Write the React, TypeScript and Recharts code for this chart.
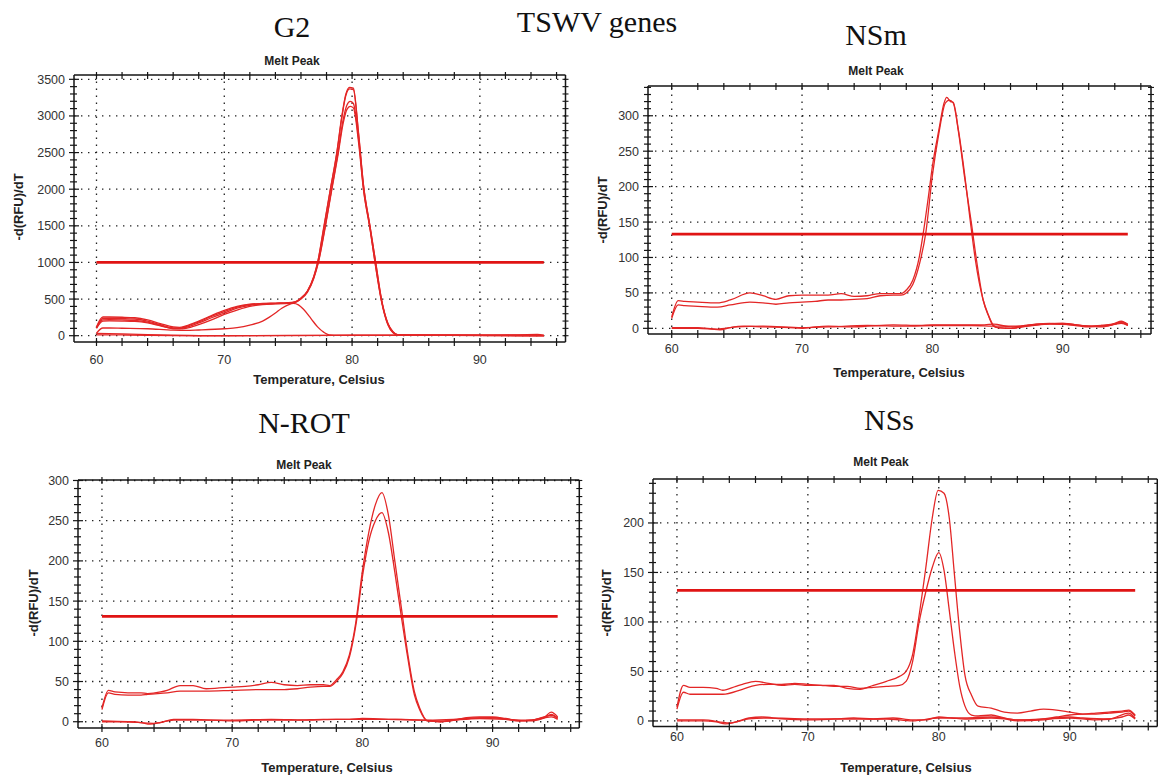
import React from "react";
import { LineChart, Line, XAxis, YAxis, ReferenceLine } from "recharts";

type Pt = [number, number];

// ---- G2 ----
const g2PeakA: Pt[] = [[60,120],[60.5,255],[61,255],[62,252],[63,245],[64,215],[65,165],[66,120],[66.5,115],[67,135],[68,200],[69,275],[70,345],[71,400],[72,430],[73,440],[74,445],[75,450],[75.5,460],[76,515],[76.5,610],[77,810],[77.3,1000],[77.8,1500],[78.3,2000],[78.8,2500],[79.2,3000],[79.5,3290],[79.8,3390],[80.1,3380],[80.5,2780],[80.9,2050],[81.4,1500],[81.85,1000],[82.3,500],[82.8,170],[83.2,55],[83.6,12],[85,8],[88,6],[92,4],[95,2]];
const g2PeakB: Pt[] = [[60,115],[60.5,235],[61,238],[62,235],[63,228],[64,200],[65,150],[66,108],[66.5,105],[67,125],[68,190],[69,265],[70,330],[71,390],[72,425],[73,438],[74,442],[75,448],[75.5,458],[76,512],[76.5,605],[77,800],[77.3,990],[77.8,1480],[78.3,1990],[78.8,2480],[79.2,2980],[79.5,3270],[79.8,3370],[80.1,3360],[80.5,2760],[80.9,2040],[81.4,1490],[81.85,990],[82.3,490],[82.8,165],[83.2,50],[83.6,10],[85,6],[90,5],[95,2]];
const g2PeakC: Pt[] = [[60,105],[60.5,215],[61,218],[62,215],[63,208],[64,185],[65,140],[66,100],[66.5,98],[67,115],[68,175],[69,245],[70,310],[71,375],[72,415],[73,432],[74,438],[75,445],[75.5,455],[76,505],[76.5,600],[77,790],[77.35,1000],[77.9,1500],[78.4,2000],[78.9,2500],[79.3,2950],[79.6,3150],[79.85,3200],[80.1,3170],[80.5,2700],[80.9,2000],[81.4,1470],[81.8,1000],[82.3,480],[82.8,160],[83.2,45],[83.6,10],[86,5],[90,4],[95,1]];
const g2PeakD: Pt[] = [[60,100],[60.5,200],[61,202],[62,200],[63,195],[64,175],[65,135],[66,95],[66.5,92],[67,100],[68,150],[69,215],[70,290],[71,350],[72,400],[73,425],[74,435],[75,442],[75.5,452],[76,500],[76.5,590],[77,780],[77.35,990],[77.9,1480],[78.4,1980],[78.9,2470],[79.3,2900],[79.6,3090],[79.85,3130],[80.1,3110],[80.5,2650],[80.9,1980],[81.4,1460],[81.8,990],[82.3,470],[82.8,150],[83.2,40],[83.6,8],[86,4],[90,4],[95,1]];
const g2Shoulder: Pt[] = [[60,35],[60.5,105],[61,105],[62,102],[64,95],[66,75],[67,72],[68,78],[70,95],[71,110],[72,145],[73,200],[73.5,250],[74,310],[74.5,375],[75,420],[75.4,440],[75.8,420],[76.2,360],[76.8,230],[77.3,120],[77.8,45],[78.2,12],[79,4],[82,4],[85,6],[90,4],[95,2]];
const g2BlankA: Pt[] = [[60,30],[61,28],[62,25],[64,15],[66,6],[68,2],[70,0],[75,4],[80,6],[85,8],[88,6],[90,5],[93,8],[94.5,18],[95,8]];
const g2BlankB: Pt[] = [[60,12],[62,10],[64,5],[66,0],[70,-2],[75,2],[80,4],[85,5],[90,3],[94,8],[95,4]];
const g2Threshold = 1000;
const g2YLabels = [0, 500, 1000, 1500, 2000, 2500, 3000, 3500];

// ---- NSm ----
const nsmHighA: Pt[] = [[60,16],[60.5,39],[61,38],[62,37],[63,36],[63.5,36],[64.5,40],[66,50],[67,46],[68,41],[69,46],[70,47],[71,47],[72,47],[73,49],[74,45],[75,46],[76,49],[77,49],[77.6,49],[78,54],[78.5,68],[79,101],[79.3,134],[79.7,186],[80,228],[80.5,280],[80.9,318],[81.1,326],[81.4,320],[81.6,319],[82,280],[82.5,214],[82.9,153],[83.3,97],[83.9,40],[84.3,19],[84.7,4],[85,1],[86,0],[87,3],[88,6],[89,7],[90,6],[91,4],[92,2],[93,4],[94,7],[94.5,10],[95,5]];
const nsmHighB: Pt[] = [[60,14],[60.5,33],[61,32],[62,31],[63,30],[63.5,30],[64.5,33],[66,37],[67,36],[68,34],[69,36],[70,37],[71,38],[72,40],[73,40],[74,41],[75,42],[76,46],[77,47],[77.6,47],[78,50],[78.5,62],[79,90],[79.5,135],[80,215],[80.5,275],[81,318],[81.3,322],[81.6,318],[82,278],[82.5,210],[83,148],[83.4,95],[83.9,40],[84.3,18],[84.7,3],[85,1],[86,0],[88,5],[90,7],[91,5],[92,3],[93,3],[94,6],[94.5,8],[95,4]];
const nsmBlankA: Pt[] = [[60,0],[62,0],[63,-1],[63.7,-2],[64.5,1],[65.5,3],[67,2],[69,1],[70,0],[71,2],[72,3],[74,2],[75,3],[77,5],[79,4],[80,5],[82,5],[84,5],[84.7,6],[86,2],[88,6],[90,7],[92,3],[93,4],[94,6],[94.5,9],[95,6]];
const nsmBlankB: Pt[] = [[60,1],[62,1],[63.5,-1],[65,2],[67,3],[70,1],[72,2],[75,4],[78,3],[80,4],[83,4],[85,3],[87,3],[89,6],[91,5],[93,2],[94.5,7],[95,4]];
const nsmThreshold = 133;
const nsmYLabels = [0, 50, 100, 150, 200, 250, 300];

// ---- N-ROT ----
const nrotHighA: Pt[] = [[60,17],[60.5,39],[61,37],[62,36],[63,36],[63.5,35],[64.5,37],[65,39],[66,45],[67,45],[68,41],[69,42],[70,43],[71,44],[72,46],[73,49],[74,46],[75,45],[76,46],[77,46],[77.5,45],[78,52],[78.5,62],[79,83],[79.5,124],[80,187],[80.5,236],[81,270],[81.5,285],[82,257],[82.5,199],[83,141],[83.5,83],[84,37],[84.4,17],[85,1],[86,0],[87,2],[88,5],[89,6],[90,6],[91,4],[92,1],[93,2],[94,6],[94.5,12],[95,6]];
const nrotHighB: Pt[] = [[60,15],[60.5,36],[61,34],[62,33],[63,33],[63.5,34],[65,36],[66,38],[67,38],[68,38],[70,39],[72,40],[73,40],[74,40],[75,41],[76,43],[77,44],[77.5,44],[78,50],[78.5,60],[79,80],[79.5,120],[80,180],[80.5,225],[81,250],[81.5,260],[82,235],[82.5,185],[83,130],[83.5,78],[84,33],[84.4,15],[85,1],[86,0],[88,4],[90,5],[91,3],[92,1],[93,2],[94,5],[94.5,9],[95,4]];
const nrotBlankA: Pt[] = [[60,0],[62,0],[63,-1],[63.7,-3],[64.5,-1],[65.5,3],[67,3],[70,1],[72,2],[75,2],[77,3],[79,3],[80,4],[82,3],[85,2],[87,3],[88,4],[90,5],[92,2],[93,2],[94.5,8],[95,5]];
const nrotBlankB: Pt[] = [[60,1],[62,0],[64,-2],[65.5,2],[68,2],[70,2],[73,3],[76,2],[78,3],[80,3],[83,3],[86,1],[89,4],[91,3],[93,1],[94.5,6],[95,3]];
const nrotThreshold = 131;
const nrotYLabels = [0, 50, 100, 150, 200, 250, 300];

// ---- NSs ----
const nssHighA: Pt[] = [[60,14],[60.5,36],[61,34],[62,34],[63,33],[63.5,31],[64.5,35],[65,37],[66,40],[67,38],[68,36],[69,37],[70,36],[71,36],[72,36],[73,33],[74,32],[75,36],[76,40],[77,45],[77.5,50],[78,67],[78.5,107],[79,154],[79.5,205],[79.95,233],[80.4,230],[80.8,205],[81.2,147],[81.6,90],[82,46],[82.5,26],[83,15],[84,13],[85,9],[86,8],[87,10],[88,12],[89,11],[90,9],[91,7],[92,8],[93,9],[94,10],[94.5,11],[95,6]];
const nssHighB: Pt[] = [[60,12],[60.5,29],[61,27],[62,27],[63,27],[63.5,27],[65,32],[66,36],[67,37],[68,37],[69,38],[70,37],[71,36],[72,35],[73,35],[74,33],[75,34],[76,35],[77,36],[77.5,40],[78,60],[78.5,100],[79,130],[79.5,155],[80,170],[80.4,152],[80.8,112],[81.2,70],[81.6,35],[82,15],[82.5,6],[83,5],[84,6],[85,3],[86,1],[87,1],[88,2],[89,4],[90,6],[91,7],[92,7],[93,8],[94,9],[94.5,10],[95,5]];
const nssBlankA: Pt[] = [[60,0],[62,0],[63,-1],[63.7,-3],[64.5,-1],[65.5,3],[66.5,4],[68,2],[70,1],[72,2],[73.5,3],[75,2],[76.5,3],[78,1],[79,1],[80,4],[81,3],[82,2],[84,3],[85,2],[86,0],[88,1],[89,3],[90,4],[91,3],[93,2],[94.5,8],[95,3]];
const nssBlankB: Pt[] = [[60,1],[62,1],[64,-2],[65.5,2],[67,3],[70,2],[73,2],[76,2],[78,0],[80,3],[82,3],[84,4],[86,1],[88,2],[90,3],[92,1],[94,4],[94.5,6],[95,2]];
const nssThreshold = 132;
const nssYLabels = [0, 50, 100, 150, 200];

// ---- shared axis values ----
const tempRange = [60, 95];
const xLabels = [60, 70, 80, 90];
const xTicks = [60, 62, 64, 66, 68, 70, 72, 74, 76, 78, 80, 82, 84, 86, 88, 90, 92, 94, 96];

const RED = "#e32626";
const INK = "#151515";
const SANS = "'Liberation Sans', Arial, sans-serif";
const SERIF = "'Liberation Serif', 'Times New Roman', serif";

const toRows = (pts: Pt[]) => pts.map(([t, y]) => ({ t, y }));
const minorTicks = (top: number, step: number) => {
  const out: number[] = [];
  for (let v = 0; v <= top + 1e-9; v += step) out.push(Math.round(v));
  return out;
};

type Frame = { l: number; t: number; r: number; b: number };
type Panel = {
  title: string;
  titleAt: [number, number];
  meltAt: [number, number];
  yTitleAt: [number, number];
  xTitleAt: [number, number];
  labelGap: number;
  frame: Frame;
  xDomain: [number, number];
  yDomain: [number, number];
  yLabels: number[];
  yStep: number;
  curves: Pt[][];
  threshold: number;
};

const panels: Panel[] = [
  {
    title: "G2", titleAt: [292, 27], meltAt: [292, 61], yTitleAt: [18, 207], xTitleAt: [319, 379], labelGap: 22,
    frame: { l: 73.5, t: 75, r: 565, b: 342 }, xDomain: [58.24, 96.7], yDomain: [-86, 3559],
    yLabels: g2YLabels, yStep: 100,
    curves: [g2BlankA, g2BlankB, g2Shoulder, g2PeakD, g2PeakC, g2PeakB, g2PeakA], threshold: g2Threshold,
  },
  {
    title: "NSm", titleAt: [876, 35], meltAt: [876, 71], yTitleAt: [602, 210], xTitleAt: [899, 372], labelGap: 19,
    frame: { l: 648, t: 86, r: 1151, b: 334 }, xDomain: [58.18, 96.78], yDomain: [-8, 342],
    yLabels: nsmYLabels, yStep: 10,
    curves: [nsmBlankA, nsmBlankB, nsmHighB, nsmHighA], threshold: nsmThreshold,
  },
  {
    title: "N-ROT", titleAt: [304, 423], meltAt: [304, 465], yTitleAt: [33, 603], xTitleAt: [327, 767], labelGap: 19,
    frame: { l: 77.7, t: 480, r: 579, b: 728 }, xDomain: [58.16, 96.66], yDomain: [-7.8, 300.6],
    yLabels: nrotYLabels, yStep: 10,
    curves: [nrotBlankA, nrotBlankB, nrotHighB, nrotHighA], threshold: nrotThreshold,
  },
  {
    title: "NSs", titleAt: [889, 420], meltAt: [881, 462], yTitleAt: [606, 603], xTitleAt: [906, 767], labelGap: 15,
    frame: { l: 652.7, t: 479, r: 1157, b: 726.5 }, xDomain: [58.17, 96.69], yDomain: [-5.6, 244.4],
    yLabels: nssYLabels, yStep: 10,
    curves: [nssBlankA, nssBlankB, nssHighB, nssHighA], threshold: nssThreshold,
  },
];

const PAD_L = 70, PAD_R = 12, PAD_T = 12, PAD_B = 36;

function Label({ at, children, style }: { at: [number, number]; children: React.ReactNode; style: React.CSSProperties }) {
  return (
    <div style={{ position: "absolute", left: at[0], top: at[1], transform: "translate(-50%, -50%)", whiteSpace: "nowrap", ...style }}>
      {children}
    </div>
  );
}

function MeltPanel({ p }: { p: Panel }) {
  const w = p.frame.r - p.frame.l;
  const h = p.frame.b - p.frame.t;
  const yMinor = minorTicks(p.yDomain[1], p.yStep);

  const bottomTick = (props: any) => {
    const { x, y, payload } = props;
    return (
      <g>
        <line x1={x} x2={x} y1={y - 4} y2={y + 4} stroke={INK} strokeWidth={1.2} />
        {xLabels.includes(payload.value) && (
          <text x={x} y={y + p.labelGap} textAnchor="middle" fontSize={12.5} fontFamily={SANS} fill="#333">
            {payload.value}
          </text>
        )}
      </g>
    );
  };
  const topTick = (props: any) => {
    const { x, y } = props;
    return <line x1={x} x2={x} y1={y - 3} y2={y + 4} stroke={INK} strokeWidth={1.2} />;
  };
  const leftTick = (props: any) => {
    const { x, y, payload } = props;
    const major = p.yLabels.includes(payload.value);
    return (
      <g>
        <line x1={x - (major ? 5 : 4)} x2={x + (major ? 5 : 3)} y1={y} y2={y} stroke={INK} strokeWidth={1.2} />
        {major && (
          <text x={x - 9} y={y + 4.5} textAnchor="end" fontSize={12.5} fontFamily={SANS} fill="#333">
            {payload.value}
          </text>
        )}
      </g>
    );
  };
  const rightTick = (props: any) => {
    const { x, y } = props;
    return <line x1={x - 3} x2={x + 3} y1={y} y2={y} stroke={INK} strokeWidth={1.1} />;
  };

  return (
    <div style={{ position: "absolute", left: p.frame.l - PAD_L, top: p.frame.t - PAD_T }}>
      <LineChart width={w + PAD_L + PAD_R} height={h + PAD_T + PAD_B} margin={{ top: 0, right: 0, bottom: 0, left: 0 }}>
        <XAxis xAxisId="b" dataKey="t" type="number" domain={p.xDomain} allowDataOverflow ticks={xTicks} interval={0}
          height={PAD_B} tickSize={0} tickMargin={0} tickLine={false} tick={bottomTick} axisLine={{ stroke: INK, strokeWidth: 1.5 }} />
        <XAxis xAxisId="t" orientation="top" dataKey="t" type="number" domain={p.xDomain} allowDataOverflow ticks={xTicks} interval={0}
          height={PAD_T} tickSize={0} tickMargin={0} tickLine={false} tick={topTick} axisLine={{ stroke: INK, strokeWidth: 1.5 }} />
        <YAxis yAxisId="l" type="number" domain={p.yDomain} allowDataOverflow ticks={yMinor} interval={0}
          width={PAD_L} tickSize={0} tickMargin={0} tickLine={false} tick={leftTick} axisLine={{ stroke: INK, strokeWidth: 1.5 }} />
        <YAxis yAxisId="r" orientation="right" type="number" domain={p.yDomain} allowDataOverflow ticks={yMinor} interval={0}
          width={PAD_R} tickSize={0} tickMargin={0} tickLine={false} tick={rightTick} axisLine={{ stroke: INK, strokeWidth: 1.5 }} />
        {xLabels.map((v) => (
          <ReferenceLine key={"gx" + v} x={v} xAxisId="b" yAxisId="l" stroke="#222" strokeWidth={1.3} strokeDasharray="1.4 5.6" />
        ))}
        {p.yLabels.map((v) => (
          <ReferenceLine key={"gy" + v} y={v} xAxisId="b" yAxisId="l" stroke="#222" strokeWidth={1.3} strokeDasharray="1.4 5.6" />
        ))}
        {p.curves.map((c, i) => (
          <Line key={i} data={toRows(c)} dataKey="y" xAxisId="b" yAxisId="l" type="monotone" stroke={RED}
            strokeWidth={1.3} dot={false} activeDot={false} isAnimationActive={false} />
        ))}
        <Line data={tempRange.map((t) => ({ t, y: p.threshold }))} dataKey="y" xAxisId="b" yAxisId="l" type="linear"
          stroke="#e01414" strokeWidth={2.8} dot={false} activeDot={false} isAnimationActive={false} />
      </LineChart>
    </div>
  );
}

export default function App() {
  return (
    <div style={{ position: "absolute", left: 0, top: 0, width: 1158, height: 780, overflow: "hidden", background: "#fff" }}>
      <Label at={[597, 22]} style={{ fontFamily: SERIF, fontSize: 30, color: "#111" }}>TSWV genes</Label>
      {panels.map((p) => (
        <React.Fragment key={p.title}>
          <MeltPanel p={p} />
          <Label at={p.titleAt} style={{ fontFamily: SERIF, fontSize: 30, color: "#111" }}>{p.title}</Label>
          <Label at={p.meltAt} style={{ fontFamily: SANS, fontSize: 12, fontWeight: "bold", color: "#222" }}>Melt Peak</Label>
          <Label at={p.xTitleAt} style={{ fontFamily: SANS, fontSize: 13, fontWeight: "bold", color: "#222" }}>Temperature, Celsius</Label>
          <Label at={p.yTitleAt} style={{ fontFamily: SANS, fontSize: 13, fontWeight: "bold", color: "#222", transform: "translate(-50%, -50%) rotate(-90deg)" }}>
            -d(RFU)/dT
          </Label>
        </React.Fragment>
      ))}
    </div>
  );
}
